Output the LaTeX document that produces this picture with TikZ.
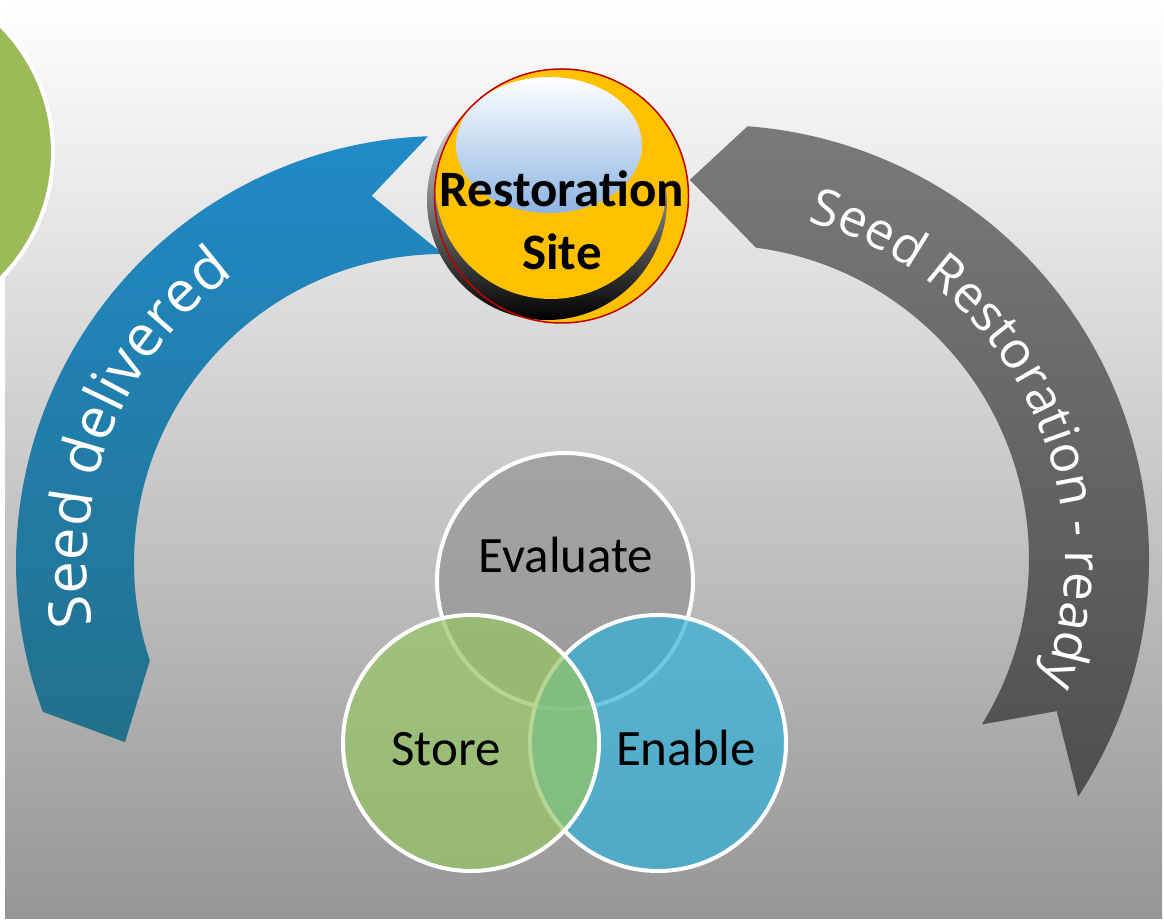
\documentclass[tikz,border=0pt]{standalone}
\usepackage{fontspec}
\setmainfont{Carlito}
\newfontfamily\arcfont{Open Sans}
\usepackage{xcolor}
\definecolor{leaf}{RGB}{155,187,89}
\definecolor{sun}{RGB}{255,192,0}
\definecolor{rim}{RGB}{192,0,0}
\definecolor{sky}{RGB}{141,180,226}
\definecolor{bluetop}{RGB}{33,138,200}
\definecolor{bluebot}{RGB}{34,112,139}
\definecolor{graytop}{RGB}{122,122,122}
\definecolor{graybot}{RGB}{78,78,78}
\definecolor{bgbot}{RGB}{150,150,150}
\definecolor{evalfill}{RGB}{147,147,147}
\definecolor{storefill}{RGB}{150,198,100}
\definecolor{enablefill}{RGB}{49,176,217}
\usepackage{tikz}
\usetikzlibrary{decorations.text}

\begin{document}
\begin{tikzpicture}[x=1pt, y=1pt,
  venn/.style={circle, draw=white, line width=4, minimum size=256, inner sep=0, fill opacity=0.7},
  venntext/.style={anchor=base, font=\fontsize{51}{60}\selectfont},
  sitetext/.style={anchor=base, font=\bfseries\fontsize{51}{60}\selectfont},
  arcword/.style={decorate, decoration={text along path, text align=center, text color=white, text={#1}}}]
\useasboundingbox (0,0) rectangle (1164,922);
\clip (0,0) rectangle (1164,922);
\fill[white] (0,0) rectangle (1164,922);
\shade[top color=white, bottom color=bgbot] (5,4) rectangle (1162,922);

\node[circle, fill=leaf, draw=white, line width=4, minimum size=358, inner sep=0] (seedbank) at (-126,770) {};

% left band, notched at the top
\begin{scope}[shift={(443,359)}]
\shade[top color=bluetop, bottom color=bluebot] (92:427) arc[start angle=92, end angle=200.4, radius=427]
  -- (209.4:365) -- (198.4:309) arc[start angle=198.4, end angle=90, radius=309] -- (101:374) -- cycle;
\path[arcword={|\arcfont\fontsize{58}{60}\selectfont|Seed delivered}] (200:356) arc[start angle=200, end angle=116, radius=356];
\end{scope}

% right band, pointing at the site
\begin{scope}[shift={(715,363)}]
\shade[top color=graytop, bottom color=graybot] (85.7:434) -- (93.8:380) -- (82.5:314)
  arc[start angle=82.5, end angle=-31.8, radius=314] -- (-24:374) -- (-33.2:434)
  arc[start angle=-33.2, end angle=85.7, radius=434] -- cycle;
\path[arcword={|\arcfont\fontsize{51}{60}\selectfont|Seed Restoration - ready}] (85:350) arc[start angle=85, end angle=-31, radius=350];
\end{scope}

% the site button
\fill[sun] (561.5,726) circle[radius=127];
\shade[top color=white, middle color=gray!60, bottom color=black] (547,722) circle[radius=120];
\begin{scope}
\clip (561.5,726) circle[radius=127];
\fill[sun] (551,739) circle[radius=116];
\end{scope}
\shade[top color=white, bottom color=sky] (549,777) ellipse[x radius=93, y radius=68];
\draw[rim, line width=1.5] (561.5,726) circle[radius=127];
\node[sitetext] (site) at (562,715.5) {Restoration};
\node[sitetext] (site2) at (562,652.5) {Site};

\node[venn, fill=evalfill] (evaluate) at (565,341) {};
\node[venn, fill=enablefill] (enable) at (658,179) {};
\node[venn, fill=storefill] (store) at (471,179) {};
\node[venntext] (evaluatelbl) at (566,350) {Evaluate};
\node[venntext] (storelbl) at (446,157) {Store};
\node[venntext] (enablelbl) at (686,157) {Enable};
\end{tikzpicture}
\end{document}
